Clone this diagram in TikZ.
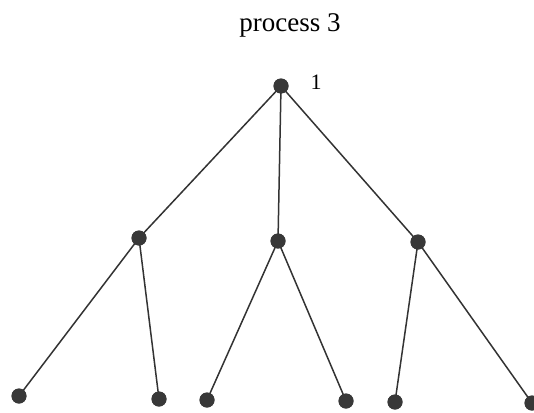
\documentclass[tikz,border=0pt]{standalone}
\usepackage{fontspec}
\setmainfont{Liberation Serif}
\begin{document}
\begin{tikzpicture}[x=1pt,y=-1pt,
  dot/.style={circle,fill=black!78,inner sep=0pt,minimum size=15pt},
  edge/.style={draw=black!80,line width=1.5pt},
  lbl/.style={font=\fontsize{27}{30}\selectfont,inner sep=0pt}]
\useasboundingbox (0,0) rectangle (534,412);
\node[lbl] (title) at (290,25) {process 3};
\node[dot] (r) at (281,86) {};
\node[lbl,font=\fontsize{22}{24}\selectfont] (one) at (316,82) {1};
\node[dot] (a) at (139,238) {};
\node[dot] (b) at (278,241) {};
\node[dot] (c) at (418,242) {};
\node[dot] (a1) at (19,396) {};
\node[dot] (a2) at (159,399) {};
\node[dot] (b1) at (207,400) {};
\node[dot] (b2) at (346,401) {};
\node[dot] (c1) at (395,402) {};
\node[dot] (c2) at (532,403) {};
\foreach \u/\v in {r/a,r/b,r/c,a/a1,a/a2,b/b1,b/b2,c/c1,c/c2}
  \draw[edge] (\u.center) -- (\v.center);
\foreach \n in {r,a,b,c,a1,a2,b1,b2,c1,c2}
  \node[dot] at (\n) {};
\end{tikzpicture}
\end{document}
